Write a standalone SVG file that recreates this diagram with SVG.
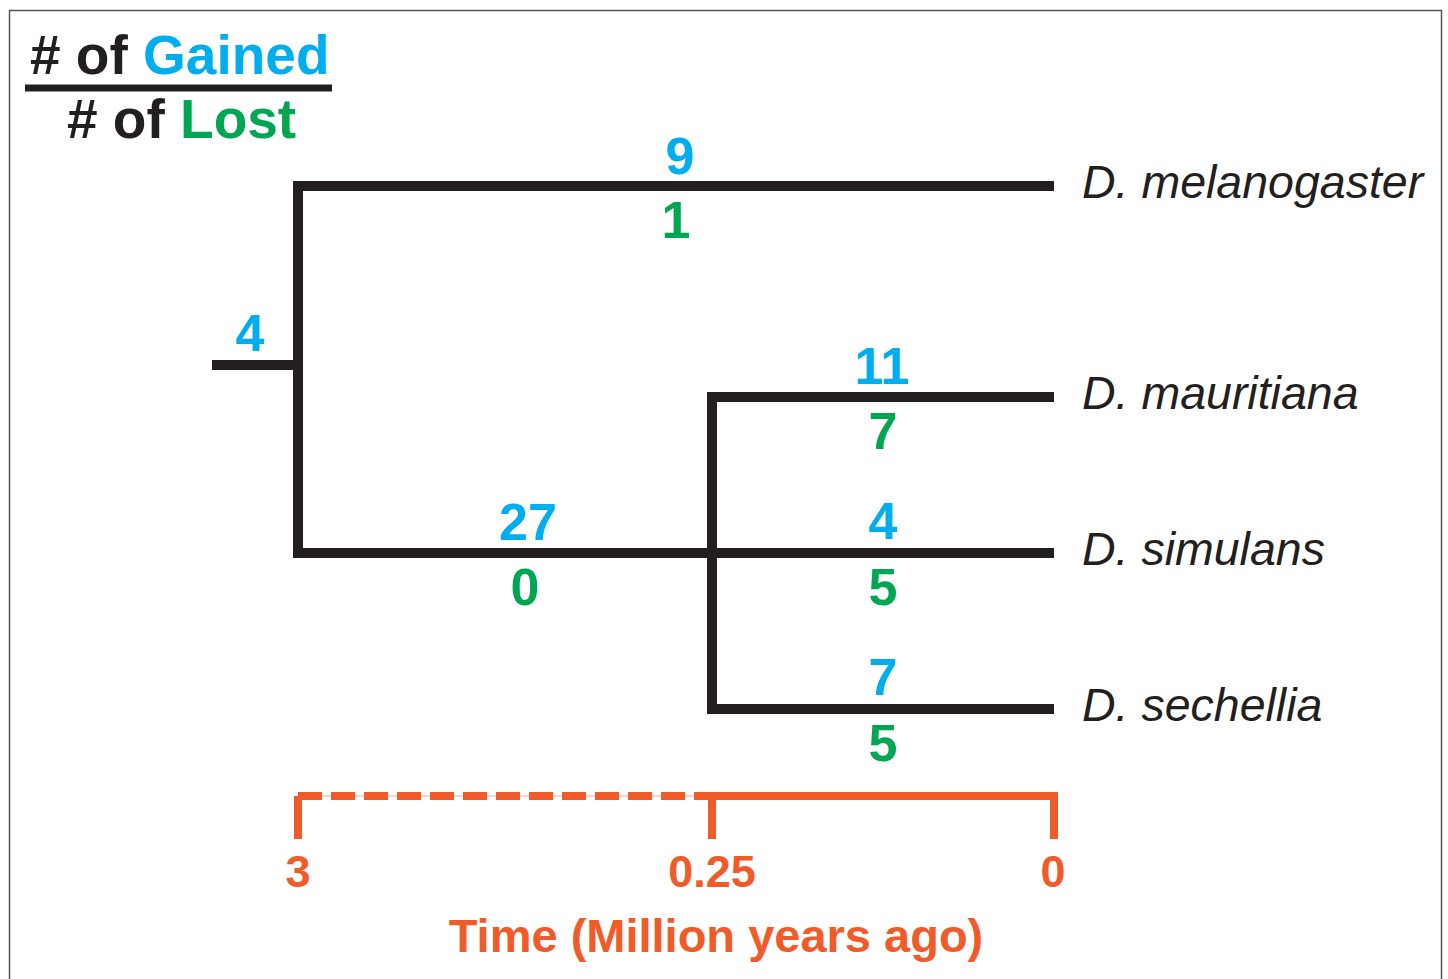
<svg xmlns="http://www.w3.org/2000/svg" width="1448" height="979" viewBox="0 0 1448 979">
<style>
.num{font-family:"Liberation Sans",Arial,sans-serif;font-weight:bold;font-size:52px;text-anchor:middle}
.g{fill:#00AEEF}
.l{fill:#00A651}
.sp{font-family:"Liberation Sans",Arial,sans-serif;font-style:italic;font-size:46.5px;fill:#231F20}
.leg{font-family:"Liberation Sans",Arial,sans-serif;font-weight:bold;font-size:55px;fill:#231F20}
.ax{font-family:"Liberation Sans",Arial,sans-serif;font-weight:bold;font-size:45px;fill:#F15A29;text-anchor:middle}
.br{fill:none;stroke:#231F20;stroke-width:10;stroke-linejoin:miter}
.tl{fill:none;stroke:#F15A29;stroke-width:8}
</style>
<rect x="0" y="0" width="1448" height="979" fill="#ffffff"/>
<rect x="9.5" y="10.5" width="1432" height="1000" fill="none" stroke="#555555" stroke-width="1.5"/>
<g id="legend">
<text class="leg" x="30" y="74"># of <tspan fill="#00AEEF">Gained</tspan></text>
<line x1="25" y1="88" x2="332" y2="88" stroke="#231F20" stroke-width="7"/>
<text class="leg" x="67" y="138"># of <tspan fill="#00A651">Lost</tspan></text>
</g>
<g id="connectors">
<path class="br" d="M1054,186 H298 V553 H1054"/>
<path class="br" d="M212,365 H298"/>
<path class="br" d="M1054,397 H712 V709 H1054"/>
</g>
<g id="node-melanogaster">
<text class="sp" x="1082" y="198">D. melanogaster</text>
<text class="num g" x="680" y="174">9</text>
<text class="num l" x="676" y="238">1</text>
</g>
<g id="node-root">
<text class="num g" x="250" y="351">4</text>
</g>
<g id="node-ancestor">
<text class="num g" x="528" y="540">27</text>
<text class="num l" x="525" y="605">0</text>
</g>
<g id="node-mauritiana">
<text class="sp" x="1082" y="409">D. mauritiana</text>
<text class="num g" x="882" y="384">11</text>
<text class="num l" x="883" y="449">7</text>
</g>
<g id="node-simulans">
<text class="sp" x="1082" y="565">D. simulans</text>
<text class="num g" x="883" y="539">4</text>
<text class="num l" x="883" y="605">5</text>
</g>
<g id="node-sechellia">
<text class="sp" x="1082" y="721">D. sechellia</text>
<text class="num g" x="883" y="695">7</text>
<text class="num l" x="883" y="761">5</text>
</g>
<g id="timeline">
<line x1="298" y1="796" x2="712" y2="796" stroke="#F9C8B4" stroke-width="1.5"/>
<line x1="298" y1="796" x2="712" y2="796" class="tl" stroke-dasharray="24,9"/>
<path class="tl" d="M298,839 V796 M712,839 V796 H1054 V839"/>
<text class="ax" x="298" y="887">3</text>
<text class="ax" x="712" y="887">0.25</text>
<text class="ax" x="1053" y="887">0</text>
<text class="ax" x="716" y="952" style="font-size:47px">Time (Million years ago)</text>
</g>
</svg>
